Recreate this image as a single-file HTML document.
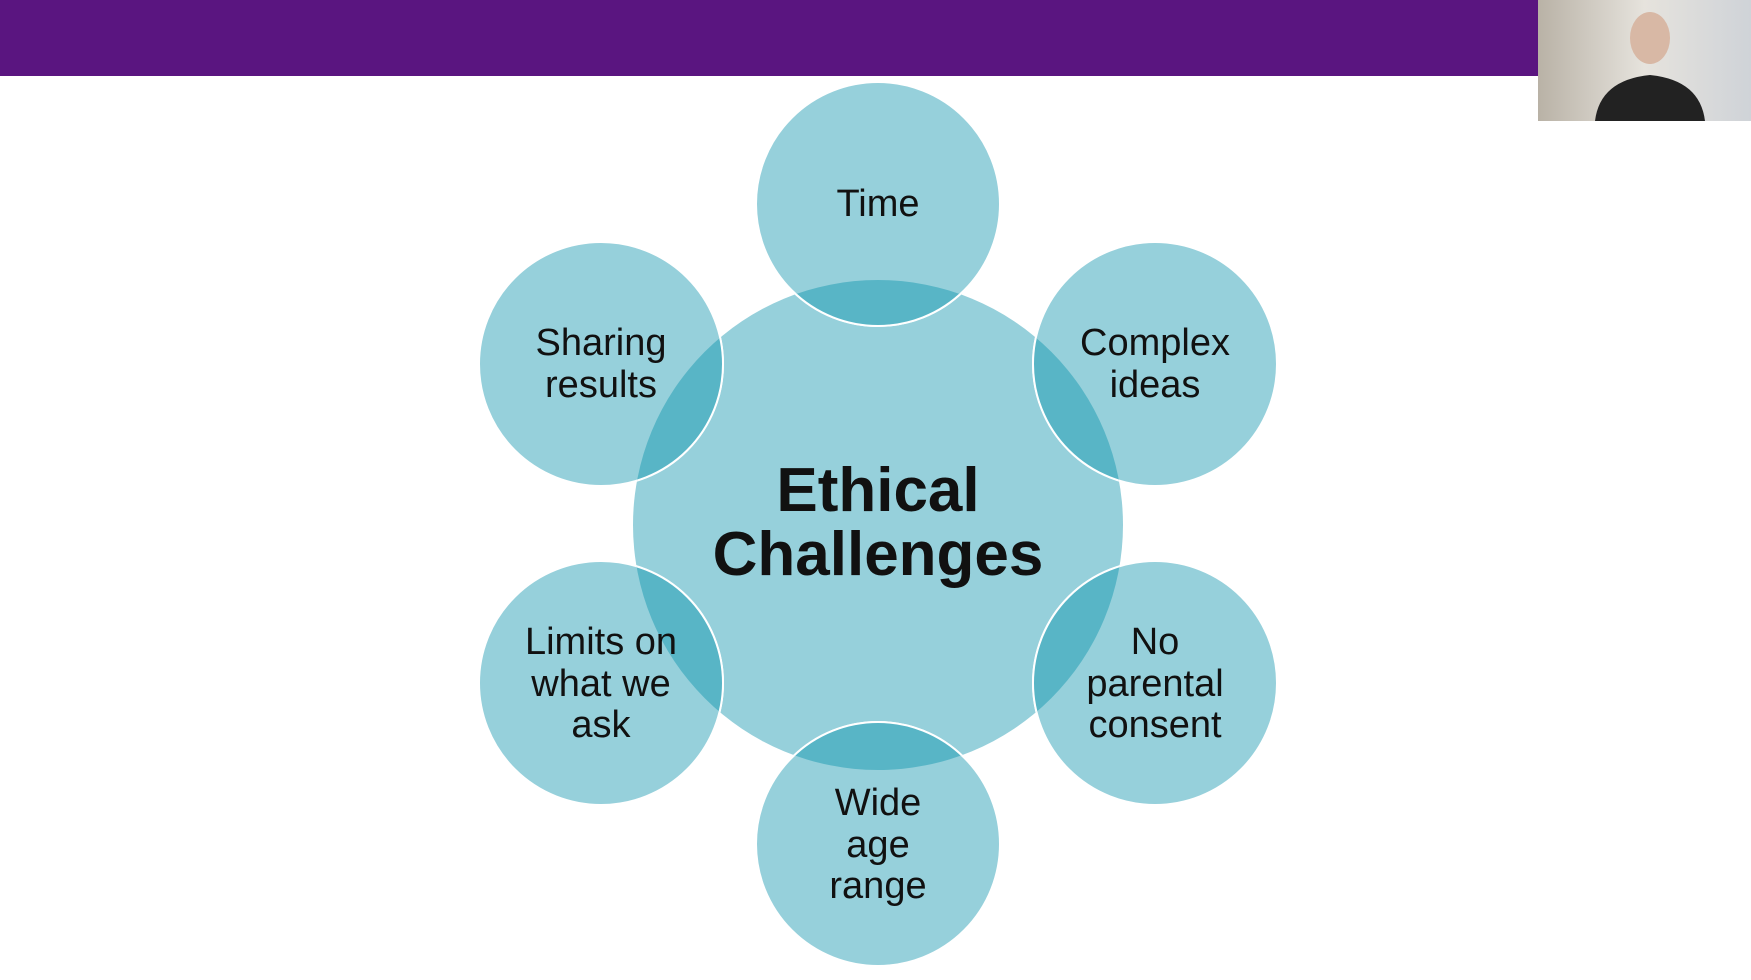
<!DOCTYPE html>
<html><head><meta charset="utf-8"><style>
html,body{margin:0;padding:0;background:#fff;width:1751px;height:980px;overflow:hidden}
svg{display:block}
text{font-family:"Liberation Sans",Arial,sans-serif;fill:#111;text-anchor:middle}
</style></head><body>
<svg width="1751" height="980" viewBox="0 0 1751 980" xmlns="http://www.w3.org/2000/svg">
<defs>
<clipPath id="big"><circle cx="878" cy="525" r="245"/></clipPath>
<linearGradient id="cam" x1="0" y1="0" x2="1" y2="0">
<stop offset="0" stop-color="#b9b2a6"/><stop offset="0.5" stop-color="#e6e3dd"/><stop offset="1" stop-color="#cfd3d8"/>
</linearGradient>
</defs>
<rect x="0" y="0" width="1538" height="76" fill="#5a1580"/>
<rect x="1538" y="0" width="213" height="121" fill="url(#cam)"/>
<ellipse cx="1650" cy="38" rx="20" ry="26" fill="#d8b8a5"/>
<path d="M1595 121 Q1600 80 1650 75 Q1700 80 1705 121 Z" fill="#222"/>
<circle cx="878" cy="525" r="245" fill="#96d0db"/>
<g fill="#96d0db" stroke="#fff" stroke-width="2">
<circle cx="878" cy="204" r="122"/>
<circle cx="601" cy="364" r="122"/>
<circle cx="1155" cy="364" r="122"/>
<circle cx="601" cy="683" r="122"/>
<circle cx="1155" cy="683" r="122"/>
<circle cx="878" cy="844" r="122"/>
</g>
<g clip-path="url(#big)" fill="#58b5c6" stroke="#fff" stroke-width="2">
<circle cx="878" cy="204" r="122"/>
<circle cx="601" cy="364" r="122"/>
<circle cx="1155" cy="364" r="122"/>
<circle cx="601" cy="683" r="122"/>
<circle cx="1155" cy="683" r="122"/>
<circle cx="878" cy="844" r="122"/>
</g>
<g font-size="38">
<text x="878" y="216">Time</text>
<text x="601" y="355">Sharing</text><text x="601" y="397">results</text>
<text x="1155" y="355">Complex</text><text x="1155" y="397">ideas</text>
<text x="601" y="654">Limits on</text><text x="601" y="696">what we</text><text x="601" y="737">ask</text>
<text x="1155" y="654">No</text><text x="1155" y="696">parental</text><text x="1155" y="737">consent</text>
<text x="878" y="815">Wide</text><text x="878" y="857">age</text><text x="878" y="898">range</text>
</g>
<g font-size="62" font-weight="bold">
<text x="878" y="511">Ethical</text>
<text x="878" y="575">Challenges</text>
</g>
</svg>
</body></html>
